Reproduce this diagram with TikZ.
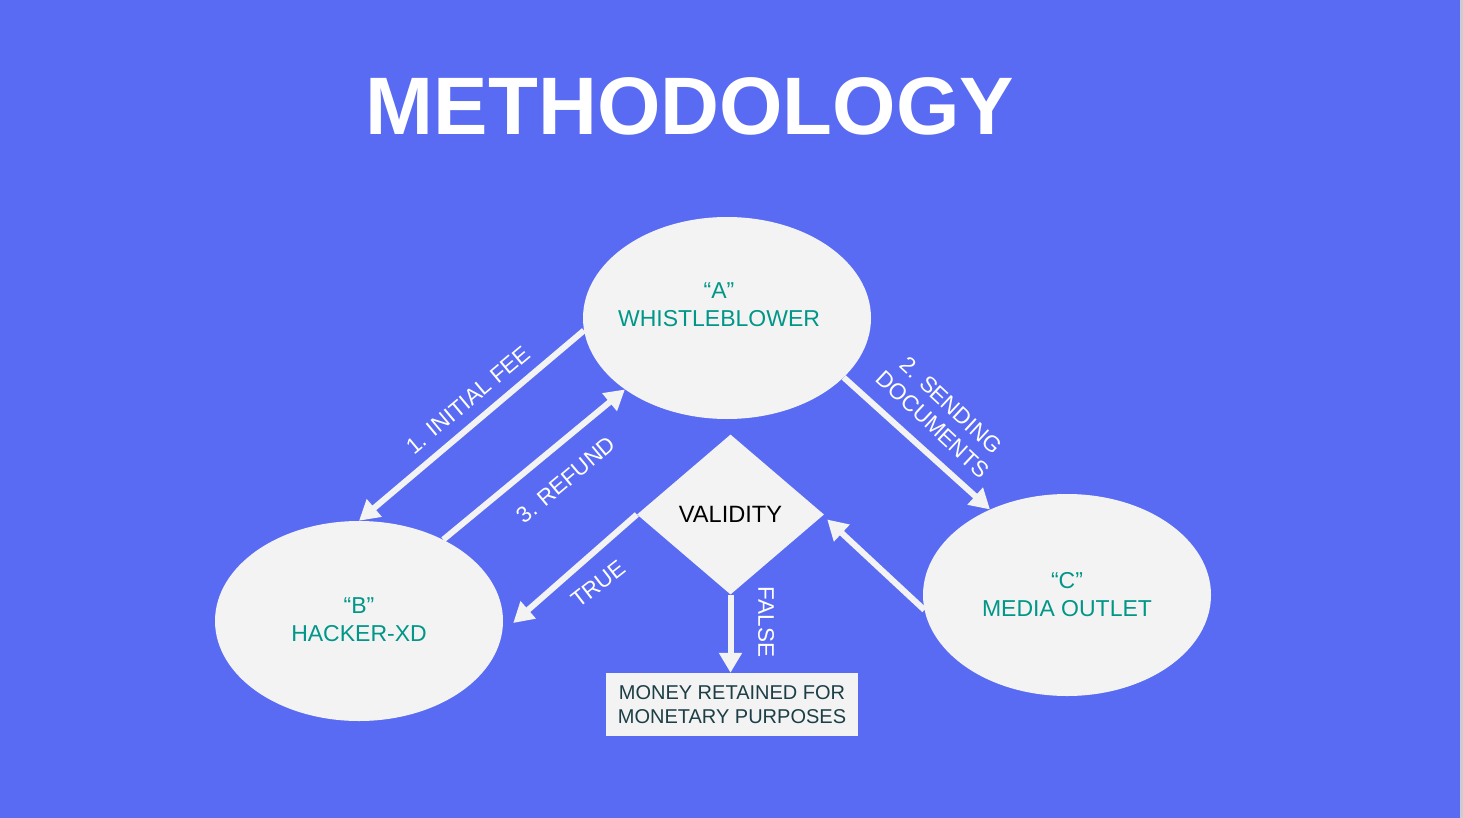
\documentclass[tikz,border=0pt]{standalone}
\usepackage{fontspec}
\setmainfont{Liberation Sans}
\usetikzlibrary{shapes.geometric,arrows.meta,calc}
\definecolor{bg}{RGB}{89,107,243}
\definecolor{shapefill}{RGB}{243,243,243}
\definecolor{nodeteal}{RGB}{0,150,136}
\definecolor{boxtext}{RGB}{28,62,70}
\definecolor{edgegray}{RGB}{205,205,205}
\begin{document}
\begin{tikzpicture}[x=1pt,y=-1pt,
  oval/.style={ellipse, fill=shapefill, minimum width=288pt, minimum height=202pt, inner sep=0pt},
  ovaltext/.style={text=nodeteal, font=\fontsize{23}{28}\selectfont, align=center, inner sep=0pt},
  flow/.style={draw=shapefill, line width=6pt, -{Triangle[length=20pt,width=22pt]}},
  lbl/.style={text=white, font=\fontsize{22.5}{25}\selectfont, align=center, inner sep=0pt}
]
\fill[bg] (0,0) rectangle (1463,818);
\fill[edgegray] (1460,0) rectangle (1463,818);
\useasboundingbox (0,0) rectangle (1463,818);

\node[text=white, font=\fontsize{81.6}{82}\selectfont\bfseries, inner sep=0pt] (title) at (690,106) {METHODOLOGY};

\node[oval] (A) at (727,318) {};
\node[oval, minimum height=200pt] (B) at (359,621) {};
\node[oval] (C) at (1067,595) {};
\node[ovaltext] (At) at (719,305) {“A”\\WHISTLEBLOWER};
\node[ovaltext] (Bt) at (359,620) {“B”\\HACKER-XD};
\node[ovaltext] (Ct) at (1067,595) {“C”\\MEDIA OUTLET};

\node[diamond, fill=shapefill, minimum width=187pt, minimum height=160pt, inner sep=0pt,
      font=\fontsize{23.6}{26}\selectfont] (V) at (730.5,514.5) {VALIDITY};

\node[fill=shapefill, minimum width=252pt, minimum height=63pt, inner sep=0pt,
      text=boxtext, font=\fontsize{20}{24}\selectfont, align=center] (M) at (732,704.5)
      {MONEY RETAINED FOR\\MONETARY PURPOSES};

\draw[flow] (A.185) -- (B.90);
\draw[flow] (B.44) -- (A.215);
\draw[flow] (A.-27) -- (C.132);
\draw[flow] (C.186) -- ($(V.east)+(3,5)$);
\draw[flow] (V.west) -- ($(B.0)+(10,2)$);
\draw[flow] (V.south) -- (V.south |- M.north);

\node[lbl, rotate=40] (l1) at (468,400) {1. INITIAL FEE};
\node[lbl, rotate=40] (l3) at (566,480) {3. REFUND};
\node[lbl, rotate=-43, font=\fontsize{22.5}{26}\selectfont] (l2) at (942,415) {2. SENDING\\DOCUMENTS};
\node[lbl, rotate=38] (lt) at (598,584) {TRUE};
\node[lbl, rotate=-90] (lf) at (766,622) {FALSE};
\end{tikzpicture}
\end{document}
